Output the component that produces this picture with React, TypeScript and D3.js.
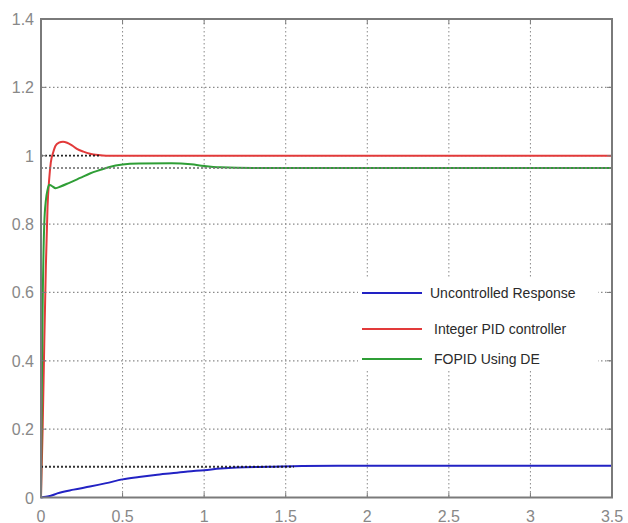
import React from "react";
import * as d3 from "d3";

// step responses: [time, amplitude]
const uncontrolled: [number, number][] = [
  [0, 0], [0.03, 0.002], [0.06, 0.005], [0.1, 0.012], [0.2, 0.023], [0.3, 0.032],
  [0.4, 0.042], [0.5, 0.053], [0.6, 0.06], [0.7, 0.066], [0.8, 0.071], [0.9, 0.076],
  [1.0, 0.08], [1.1, 0.085], [1.2, 0.088], [1.4, 0.09], [1.6, 0.092], [2.0, 0.093], [3.5, 0.093],
];
const integerPid: [number, number][] = [
  [0, 0], [0.01, 0.2], [0.02, 0.45], [0.03, 0.68], [0.04, 0.85], [0.05, 0.93], [0.06, 0.98],
  [0.075, 1.01], [0.09, 1.03], [0.11, 1.038], [0.135, 1.041], [0.16, 1.038], [0.19, 1.03],
  [0.22, 1.02], [0.26, 1.012], [0.3, 1.006], [0.35, 1.002], [0.4, 1.0], [3.5, 1.0],
];
const fopidDe: [number, number][] = [
  [0, 0], [0.005, 0.3], [0.01, 0.55], [0.02, 0.8], [0.03, 0.87], [0.04, 0.9], [0.05, 0.915],
  [0.065, 0.912], [0.09, 0.905], [0.12, 0.91], [0.17, 0.92], [0.24, 0.935], [0.3, 0.948],
  [0.36, 0.958], [0.42, 0.967], [0.5, 0.974], [0.6, 0.977], [0.8, 0.978], [0.92, 0.975],
  [1.0, 0.97], [1.1, 0.966], [1.3, 0.964], [3.5, 0.964],
];

const seriesNames = ["Uncontrolled Response", "Integer PID controller", "FOPID Using DE"];
const seriesColors = ["#2222c4", "#e23a3a", "#2f9e36"];

// steady-state marker lines: [value, end time, colour]
const steadyLines: [number, number, string][] = [
  [1.0, 0.36, "#111"],
  [0.964, 3.5, "#777"],
  [0.09, 1.55, "#111"],
];

const xTicks = [0, 0.5, 1, 1.5, 2, 2.5, 3, 3.5];
const yTicks = [0, 0.2, 0.4, 0.6, 0.8, 1, 1.2, 1.4];

export default function App() {
  const width = 628;
  const height = 523;
  const left = 41, right = 612, top = 19, bottom = 497.5;

  const x = d3.scaleLinear().domain([0, 3.5]).range([left, right]);
  const y = d3.scaleLinear().domain([0, 1.4]).range([bottom, top]);
  const line = d3.line<[number, number]>().x((d) => x(d[0])).y((d) => y(d[1])).curve(d3.curveMonotoneX);

  const series = [uncontrolled, integerPid, fopidDe];
  const font = "'Liberation Sans', Arial, sans-serif";

  return (
    <svg width={width} height={height} style={{ position: "absolute", left: 0, top: 0, background: "#fff" }}>
      <rect x={0} y={0} width={width} height={height} fill="#fff" />
      {/* grid */}
      {xTicks.slice(1, -1).map((t) => (
        <line key={"gx" + t} x1={x(t)} x2={x(t)} y1={top} y2={bottom} stroke="#8a8a8a" strokeWidth={1} strokeDasharray="1.5,2.5" />
      ))}
      {yTicks.slice(1, -1).map((t) => (
        <line key={"gy" + t} x1={left} x2={right} y1={y(t)} y2={y(t)} stroke="#8a8a8a" strokeWidth={1.2} strokeDasharray="1.5,2.5" />
      ))}
      {/* curves */}
      {series.map((s, i) => (
        <path key={i} d={line(s) || ""} fill="none" stroke={seriesColors[i]} strokeWidth={2} />
      ))}
      {/* steady state markers */}
      {steadyLines.map(([v, end, c], i) => (
        <line key={"ss" + i} x1={x(0)} x2={x(end)} y1={y(v)} y2={y(v)} stroke={c} strokeWidth={1.8} strokeDasharray="2,2" opacity={0.85} />
      ))}
      {/* axes box */}
      <rect x={left} y={top} width={right - left} height={bottom - top} fill="none" stroke="#7a7a7a" strokeWidth={2} />
      {xTicks.map((t) => (
        <g key={"xt" + t}>
          <line x1={x(t)} x2={x(t)} y1={bottom} y2={bottom - 5} stroke="#7a7a7a" />
          <line x1={x(t)} x2={x(t)} y1={top} y2={top + 5} stroke="#7a7a7a" />
          <text x={x(t)} y={bottom + 24} textAnchor="middle" fontFamily={font} fontSize={16} fill="#888">
            {t}
          </text>
        </g>
      ))}
      {yTicks.map((t) => (
        <g key={"yt" + t}>
          <line x1={left} x2={left + 5} y1={y(t)} y2={y(t)} stroke="#7a7a7a" />
          <line x1={right} x2={right - 5} y1={y(t)} y2={y(t)} stroke="#7a7a7a" />
          <text x={left - 7} y={y(t) + 6} textAnchor="end" fontFamily={font} fontSize={16} fill="#888">
            {t}
          </text>
        </g>
      ))}
      {/* legend */}
      <rect x={358} y={279} width={240} height={92} fill="#fff" />
      {seriesNames.map((n, i) => {
        const ly = [293, 329, 359][i];
        return (
          <g key={n}>
            <line x1={362} x2={422} y1={ly} y2={ly} stroke={seriesColors[i]} strokeWidth={2} />
            <text x={i === 0 ? 430 : 434} y={ly + 5} fontFamily={font} fontSize={14} fill="#2a2a2a">
              {n}
            </text>
          </g>
        );
      })}
    </svg>
  );
}
